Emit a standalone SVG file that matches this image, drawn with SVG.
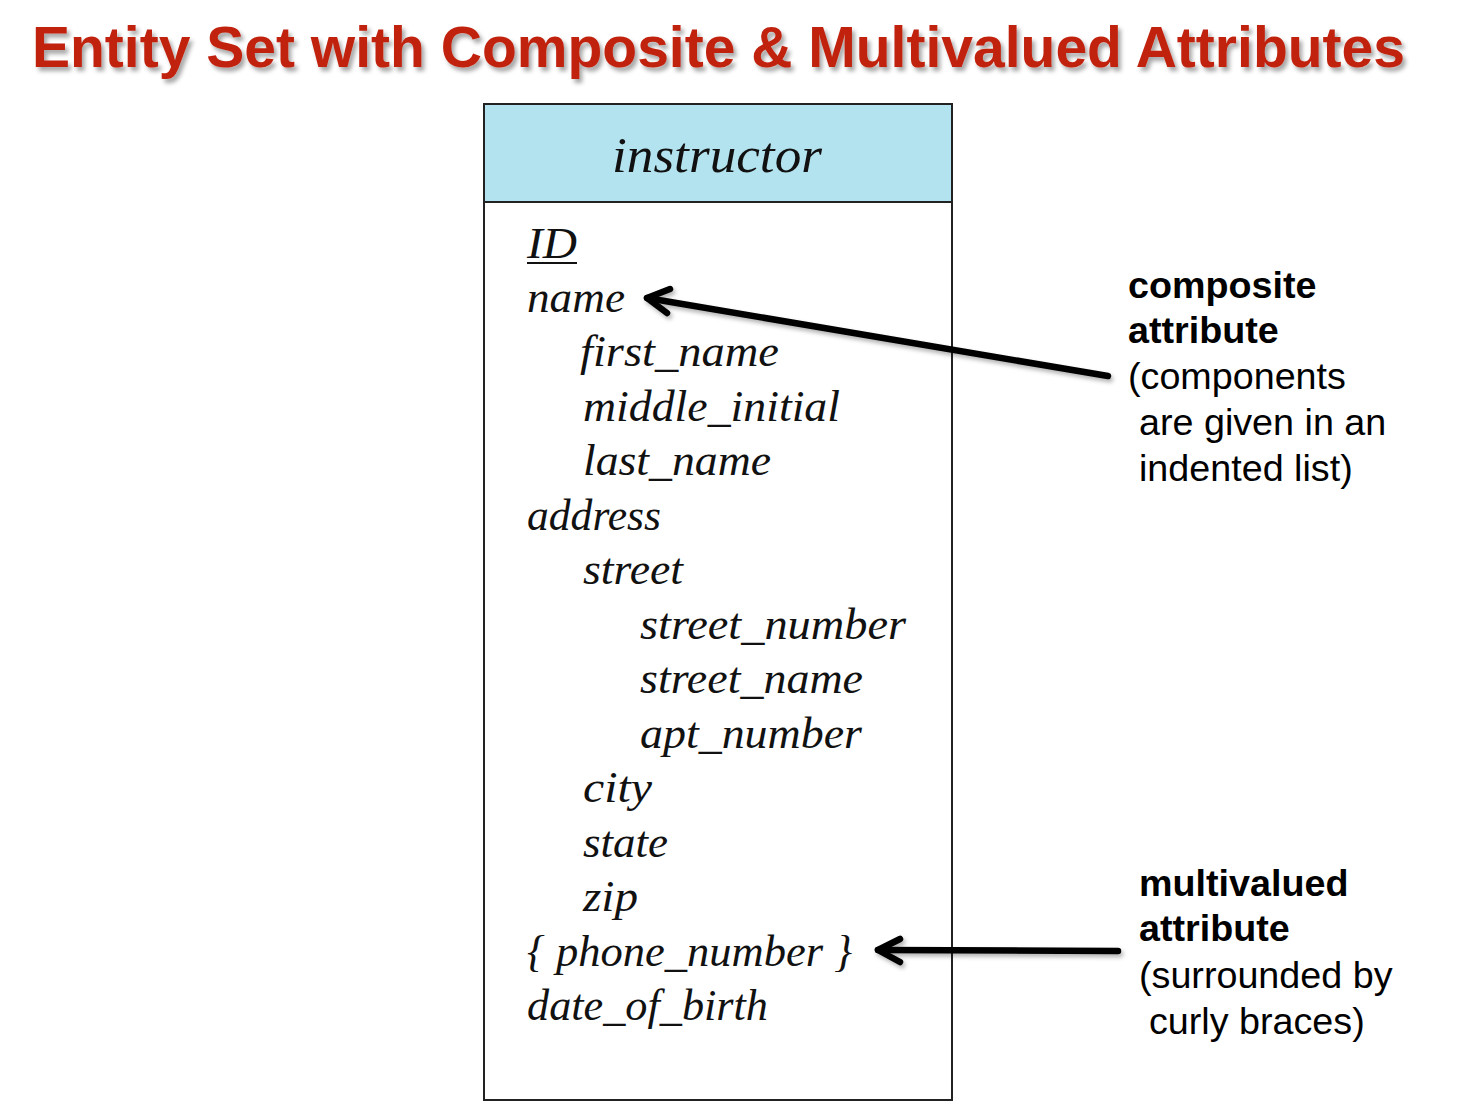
<svg xmlns="http://www.w3.org/2000/svg" width="1458" height="1118" viewBox="0 0 1458 1118">
<defs>
<style>
.title{font-family:"Liberation Sans",Arial,sans-serif;font-weight:bold;font-size:58px;fill:#c0230f}
.attr{font-family:"Liberation Serif","Times New Roman",serif;font-style:italic;font-size:45px;fill:#111}
.hdr{font-family:"Liberation Serif","Times New Roman",serif;font-style:italic;font-size:50px;fill:#111}
.note{font-family:"Liberation Sans",Arial,sans-serif;font-size:37.7px;fill:#000}
.bold{font-weight:bold}
.arrow{fill:none;stroke:#000;stroke-width:6.5;stroke-linecap:round;stroke-linejoin:round}
</style>
<filter id="shadow" x="-5%" y="-20%" width="110%" height="150%">
<feGaussianBlur in="SourceAlpha" stdDeviation="2"/>
<feOffset dx="3" dy="4" result="b"/>
<feFlood flood-color="#000" flood-opacity="0.35"/>
<feComposite in2="b" operator="in"/>
<feMerge><feMergeNode/><feMergeNode in="SourceGraphic"/></feMerge>
</filter>
<filter id="ashadow" x="-10%" y="-50%" width="120%" height="200%">
<feGaussianBlur in="SourceAlpha" stdDeviation="2"/>
<feOffset dx="2" dy="3" result="b"/>
<feFlood flood-color="#000" flood-opacity="0.3"/>
<feComposite in2="b" operator="in"/>
<feMerge><feMergeNode/><feMergeNode in="SourceGraphic"/></feMerge>
</filter>
</defs>
<rect width="1458" height="1118" fill="#fff"/>
<text class="title" x="32" y="67" textLength="1373" lengthAdjust="spacingAndGlyphs" filter="url(#shadow)">Entity Set with Composite &amp; Multivalued Attributes</text>

<g id="instructor">
<rect x="484" y="104" width="468" height="996" fill="#fff" stroke="#222" stroke-width="2"/>
<rect x="484" y="104" width="468" height="98" fill="#b3e3ef" stroke="#222" stroke-width="2"/>
<text class="hdr" x="717" y="172" text-anchor="middle" textLength="210" lengthAdjust="spacingAndGlyphs">instructor</text>
<text class="attr" x="527" y="258" textLength="50" lengthAdjust="spacingAndGlyphs">ID</text>
<line x1="527" y1="263" x2="577" y2="263" stroke="#111" stroke-width="2"/>
<text class="attr" x="527" y="312" textLength="98" lengthAdjust="spacingAndGlyphs">name</text>
<text class="attr" x="580" y="366" textLength="199" lengthAdjust="spacingAndGlyphs">first_name</text>
<text class="attr" x="583" y="421" textLength="257" lengthAdjust="spacingAndGlyphs">middle_initial</text>
<text class="attr" x="583" y="475" textLength="188" lengthAdjust="spacingAndGlyphs">last_name</text>
<text class="attr" x="527" y="530" textLength="134" lengthAdjust="spacingAndGlyphs">address</text>
<text class="attr" x="583" y="584" textLength="100" lengthAdjust="spacingAndGlyphs">street</text>
<text class="attr" x="640" y="639" textLength="266" lengthAdjust="spacingAndGlyphs">street_number</text>
<text class="attr" x="640" y="693" textLength="223" lengthAdjust="spacingAndGlyphs">street_name</text>
<text class="attr" x="640" y="748" textLength="222" lengthAdjust="spacingAndGlyphs">apt_number</text>
<text class="attr" x="583" y="802" textLength="69" lengthAdjust="spacingAndGlyphs">city</text>
<text class="attr" x="583" y="857" textLength="85" lengthAdjust="spacingAndGlyphs">state</text>
<text class="attr" x="583" y="911" textLength="55" lengthAdjust="spacingAndGlyphs">zip</text>
<text class="attr" x="527" y="966" textLength="325" lengthAdjust="spacingAndGlyphs">{ phone_number }</text>
<text class="attr" x="527" y="1020" textLength="241" lengthAdjust="spacingAndGlyphs">date_of_birth</text>
</g>

<g id="connectors" filter="url(#ashadow)">
<path class="arrow" d="M1108,376 L647,298"/>
<path class="arrow" d="M670,289 L647,298 L667,313"/>
<path class="arrow" d="M1118,951 L878,950"/>
<path class="arrow" d="M900,939 L878,950 L900,962"/>
</g>

<g id="note-composite">
<text class="note bold" x="1128" y="298">composite</text>
<text class="note bold" x="1128" y="343">attribute</text>
<text class="note" x="1128" y="389">(components</text>
<text class="note" x="1139" y="435">are given in an</text>
<text class="note" x="1139" y="481">indented list)</text>
</g>
<g id="note-multivalued">
<text class="note bold" x="1139" y="896">multivalued</text>
<text class="note bold" x="1139" y="941">attribute</text>
<text class="note" x="1139" y="988">(surrounded by</text>
<text class="note" x="1149" y="1034">curly braces)</text>
</g>
</svg>
